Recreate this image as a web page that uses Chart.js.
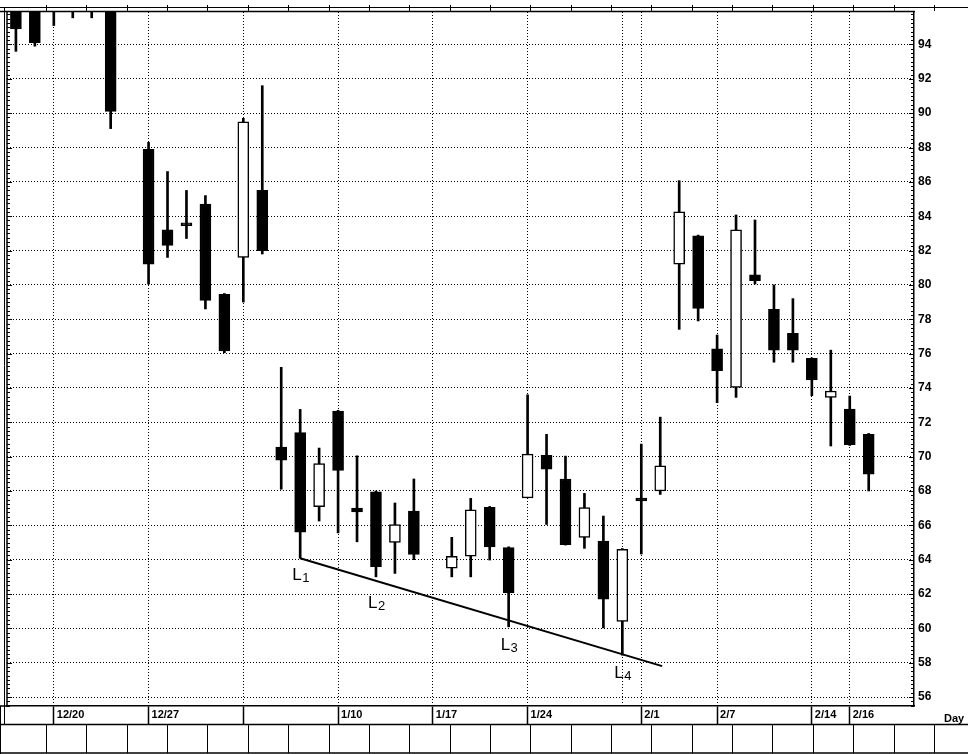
<!DOCTYPE html>
<html>
<head>
<meta charset="utf-8">
<script src="https://cdn.jsdelivr.net/npm/chart.js@4.4.1/dist/chart.umd.min.js"></script>
<style>
  html, body { margin:0; padding:0; background:#fff; }
  #wrap { width:968px; height:754px; }
</style>
</head>
<body>
<div id="wrap"><canvas id="c" width="968" height="754"></canvas></div>
<script>
// ---- data (trading-day slot index, OHLC) ----
const slots  = [0,1,2,3,4,5,7,8,9,10,11,12,13,14,15,16,17,18,19,20,21,23,24,25,26,27,28,29,30,31,32,33,34,35,36,37,38,39,40,41,42,43,44,45];
const opens  = [96.6,96.6,97.2,97.2,97.2,96.8, 87.9,83.2,83.62,84.7,79.45,81.6,85.5,70.55,71.4,67.08,72.65,67.0,67.95,65.0,66.83, 63.5,64.2,67.05,64.7,67.6,70.07,68.7,65.3,65.08,60.4,67.58,68.0,81.2,82.86,76.27,74.03,80.58,78.58,77.18,75.72,73.45,72.77,71.3];
const highs  = [97.0,97.0,97.5,97.5,97.5,97.2, 88.3,86.6,85.5,85.2,79.5,89.7,91.6,75.2,72.75,70.5,72.7,70.05,68.0,67.3,68.7, 65.3,67.57,67.1,64.75,73.6,71.3,70.03,67.86,66.54,64.65,70.73,72.3,86.07,82.9,77.08,84.07,83.78,80.0,79.2,75.75,76.2,73.53,71.35];
const lows   = [93.6,93.9,95.1,95.55,95.55,89.1, 80.05,81.6,82.7,78.6,76.05,79.0,81.8,68.1,64.08,66.25,65.56,65.04,63.0,63.2,64.0, 63.0,63.0,63.98,60.09,67.6,66.05,64.85,64.66,60.03,58.44,64.33,67.8,77.41,77.9,73.14,73.45,80.05,75.5,75.5,73.55,70.62,70.65,68.0];
const closes = [94.9,94.1,96.4,96.4,96.4,90.1, 81.2,82.3,83.45,79.1,76.15,89.5,82.0,69.8,65.6,69.6,69.2,66.78,63.6,66.05,64.3, 64.2,66.9,64.75,62.07,70.15,69.27,64.88,67.03,61.7,64.6,67.42,69.47,84.26,78.63,75.0,83.2,80.24,76.2,76.2,74.46,73.82,70.7,68.98];

// date gridlines (slot index) and their labels
const gridSlots  = [2, 7, 12, 17, 22, 27, 32, 33, 37, 42, 44];
const dateLabels = ['12/20','12/27','','1/10','1/17','1/24','','2/1','2/7','2/14','2/16'];
const unlabeledSlots = [32];

// price ticks
const priceTicks = [56,58,60,62,64,66,68,70,72,74,76,78,80,82,84,86,88,90,92,94];

// support trend line (slot, price)
const trendSlots  = [15, 34.1];
const trendValues = [64.08, 57.8];

// trend line point labels L1..L4
const markSlots  = [15, 19, 26, 32];
const markValues = [62.8, 61.2, 58.75, 57.1];
const markSubs   = ['1','2','3','4'];

// axis ranges
const xMin = -0.47, xMax = 47.39;
const yMin = 55.48, yMax = 95.89;

const bodyData = slots.map((s,i)=>({x:s, y:[opens[i], closes[i]]}));
const wickData = slots.map((s,i)=>({x:s, y:[lows[i], highs[i]]}));
const trendData = trendSlots.map((s,i)=>({x:s, y:trendValues[i]}));

const FONT = '"Liberation Sans", Arial, sans-serif';

const frame = {
  id:'frame',
  beforeDraw(c){
    const g=c.ctx; g.save(); g.fillStyle='#fff'; g.fillRect(0,0,c.width,c.height); g.restore();
  },
  afterDraw(c){
    const g=c.ctx, a=c.chartArea, ys=c.scales.y, xs=c.scales.x;
    const W=c.width, H=c.height;
    g.save();
    g.strokeStyle='#000'; g.fillStyle='#000';
    const ln=(x1,y1,x2,y2,w)=>{g.lineWidth=w; g.beginPath(); g.moveTo(x1,y1); g.lineTo(x2,y2); g.stroke();};
    // top strip
    ln(0,7.5,W,7.5,1);
    ln(0,a.top-0.5,a.right+1,a.top-0.5,1.5);
    for(let k=0;k<23;k++){ const x=Math.round(46+40.36*k)+0.5; ln(x,5,x,a.top-1,1); }
    // left border (double)
    ln(a.left,a.top-1,a.left,a.bottom+1,1.5);
    ln(4.5,7,4.5,724,1);
    // minor ticks on left and right borders
    for(let v=Math.ceil(yMin*4)/4; v<=yMax; v+=0.25){
      const y=Math.round(ys.getPixelForValue(v))+0.5;
      const major = Math.abs(v/2-Math.round(v/2))<1e-6;
      ln(a.left, y, a.left+(major?5:3), y, 1);
      ln(a.right-(major?5:3), y, a.right, y, 1);
    }
    // label row / box row
    ln(0,a.bottom,a.left,a.bottom,1.5);
    ln(0,724.5,W,724.5,1.5);
    ln(0,753,W,753,1.5);
    ln(0.5,a.bottom,0.5,754,1);
    for(let k=0;k<23;k++){ const x=Math.round(46+40.36*k)+0.5; ln(x,724.5,x,753,1); }
    // Day label
    g.font='bold 11px '+FONT; g.textBaseline='alphabetic'; g.textAlign='left';
    g.fillText('Day', 944, 722);
    // L labels
    markSlots.forEach((s,i)=>{
      const px=xs.getPixelForValue(s)-8, py=ys.getPixelForValue(markValues[i]);
      g.font='17px '+FONT;
      g.fillText('L', px, py);
      const w=g.measureText('L').width;
      g.font='13px '+FONT;
      g.fillText(markSubs[i], px+w+0.5, py+2);
    });
    g.restore();
  }
};

new Chart(document.getElementById('c'), {
  type:'bar',
  data:{
    datasets:[
      { type:'line', data:trendData, borderColor:'#000', borderWidth:2, pointRadius:0, order:0, clip:0 },
      { data:bodyData, order:1, grouped:false, barThickness:11, borderSkipped:false,
        backgroundColor: ctx => (closes[ctx.dataIndex] >= opens[ctx.dataIndex] ? '#fff' : '#000'),
        borderColor:'#000', borderWidth:1.5, clip:0 },
      { data:wickData, order:2, grouped:false, barThickness:2, borderSkipped:false,
        backgroundColor:'#000', borderWidth:0, clip:0 }
    ]
  },
  options:{
    responsive:false, maintainAspectRatio:false, animation:false,
    layout:{ padding:{ left:7, top:12, right:0, bottom:0 } },
    plugins:{ legend:{display:false}, tooltip:{enabled:false} },
    scales:{
      x:{
        type:'linear', min:xMin, max:xMax, offset:false, position:'bottom',
        afterBuildTicks: s => { s.ticks = gridSlots.map(v=>({value:v})); },
        afterFit: s => { s.height = 48; },
        grid:{ offset:false, color:'#000', lineWidth:1, drawTicks:true, tickLength:18, tickWidth:1.5,
               tickColor: ctx => (ctx.tick && unlabeledSlots.includes(ctx.tick.value) ? 'rgba(0,0,0,0)' : '#000') },
        border:{ display:true, color:'#000', width:1.5, dash:[1,2] },
        ticks:{ autoSkip:false, maxRotation:0, minRotation:0, align:'start', labelOffset:3, padding:-16,
                color:'#000', font:{ family:FONT, size:11, weight:'bold' },
                callback:(v,i)=> dateLabels[i] }
      },
      y:{
        type:'linear', position:'right', min:yMin, max:yMax,
        afterBuildTicks: s => { s.ticks = priceTicks.map(v=>({value:v})); },
        afterFit: s => { s.width = 54; },
        grid:{ color:'#000', lineWidth:1, drawTicks:false },
        border:{ display:true, color:'#000', width:1.5, dash:[1,2] },
        ticks:{ padding:4, color:'#000', font:{ family:FONT, size:12, weight:'bold' } }
      }
    }
  },
  plugins:[frame]
});
</script>
</body>
</html>
